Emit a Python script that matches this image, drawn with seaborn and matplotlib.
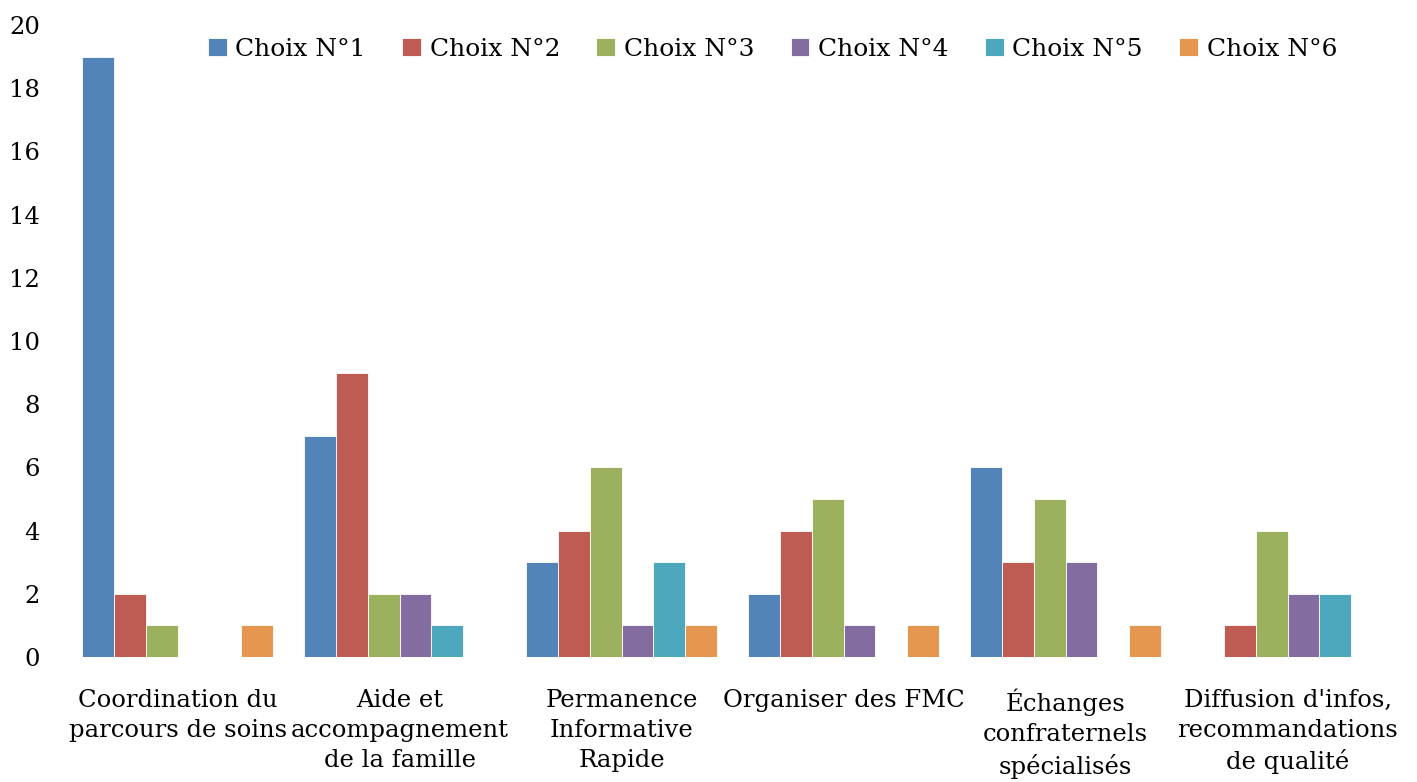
import pandas as pd
import seaborn as sns
import matplotlib.pyplot as plt

categories = ["Coordination du\nparcours de soins",
              "Aide et\naccompagnement\nde la famille",
              "Permanence\nInformative\nRapide",
              "Organiser des FMC",
              "Échanges\nconfraternels\nspécialisés",
              "Diffusion d'infos,\nrecommandations\nde qualité"]
series = ["Choix N°1", "Choix N°2", "Choix N°3", "Choix N°4", "Choix N°5", "Choix N°6"]
choix1 = [19, 7, 3, 2, 6, 0]
choix2 = [2, 9, 4, 4, 3, 1]
choix3 = [1, 2, 6, 5, 5, 4]
choix4 = [0, 2, 1, 1, 3, 2]
choix5 = [0, 1, 3, 0, 0, 2]
choix6 = [1, 0, 1, 1, 1, 0]
colors = ["#5284BA", "#BE5B53", "#9BB15E", "#836CA0", "#4EA8BD", "#E6974F"]

rows = []
for s, vals in zip(series, [choix1, choix2, choix3, choix4, choix5, choix6]):
    for c, v in zip(categories, vals):
        rows.append({"cat": c, "serie": s, "val": v})
df = pd.DataFrame(rows)

sns.set_style("white")
plt.rcParams['font.family'] = ['DejaVu Serif']
plt.rcParams['text.color'] = 'black'
plt.rcParams['xtick.color'] = 'black'
plt.rcParams['ytick.color'] = 'black'

fig, ax = plt.subplots(figsize=(14.17, 7.82), dpi=100)
fig.subplots_adjust(left=0.047, right=0.987, top=0.968, bottom=0.16)

sns.barplot(data=df, x="cat", y="val", hue="serie", palette=colors,
            width=0.86, saturation=1, edgecolor="white", linewidth=0.6, ax=ax)

ax.set_ylim(0, 20)
ax.set_yticks(range(0, 21, 2))
ax.set_xlim(-0.5, 5.5)
ax.set_xlabel("")
ax.set_ylabel("")
ax.tick_params(axis="y", labelsize=17.5, length=0, pad=19, labelcolor="black")
ax.tick_params(axis="x", labelsize=17.5, length=0, pad=23, labelcolor="black")
for lbl in ax.get_xticklabels():
    lbl.set_linespacing(1.38)
sns.despine(ax=ax, left=True, bottom=True)

ax.legend(loc="upper center", bbox_to_anchor=(0.53, 1.015), ncol=6, frameon=False,
          fontsize=18, handlelength=0.75, handleheight=0.75, handletextpad=0.35,
          columnspacing=1.45)

plt.savefig("out.png", dpi=100)
